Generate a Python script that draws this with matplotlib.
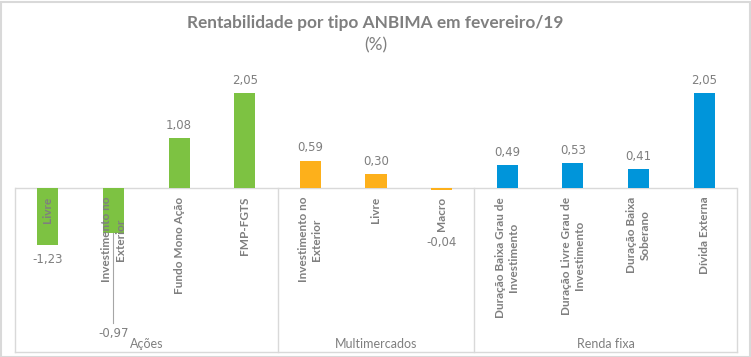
import numpy as np
import matplotlib
matplotlib.use('Agg')
import matplotlib.pyplot as plt
from matplotlib.patches import Rectangle

# dados
grupos = ['Ações', 'Multimercados', 'Renda fixa']
categorias = ['Livre', 'Investimento no\nExterior', 'Fundo Mono Ação', 'FMP-FGTS',
              'Investimento no\nExterior', 'Livre', 'Macro',
              'Duração Baixa Grau de\nInvestimento', 'Duração Livre Grau de\nInvestimento',
              'Duração Baixa\nSoberano', 'Dívida Externa']
valores = [-1.23, -0.97, 1.08, 2.05, 0.59, 0.30, -0.04, 0.49, 0.53, 0.41, 2.05]
grupo_idx = [0, 0, 0, 0, 1, 1, 1, 2, 2, 2, 2]

cores = ['#7DC242', '#FDB01B', '#0095DA']
cinza = '#7F7F7F'
linha = '#D9D9D9'

plt.rcParams['font.family'] = ['Lato', 'DejaVu Sans']

fig = plt.figure(figsize=(7.51, 3.57), dpi=100)
W, H = 751, 357
# area do grafico em pixels: x 15..737, zero em y=188, base em y=352
px_unit = 46.3
y_top_px, y_bot_px, y0_px = 60, 352, 188
ax = fig.add_axes([15 / W, 1 - y_bot_px / H, (737 - 15) / W, (y_bot_px - y_top_px) / H])
ax.set_xlim(-0.5, len(valores) - 0.5)
ax.set_ylim(-(y_bot_px - y0_px) / px_unit, (y0_px - y_top_px) / px_unit)
ax.axis('off')
ymin = ax.get_ylim()[0]

x = np.arange(len(valores))
ax.bar(x, valores, width=0.32, color=[cores[g] for g in grupo_idx], zorder=2)

# eixos e separadores
ax.plot([-0.5, len(valores) - 0.5], [0, 0], color=linha, lw=1, zorder=1)
ax.plot([-0.5, len(valores) - 0.5], [ymin, ymin], color=linha, lw=1, clip_on=False)
limites = [-0.5, 3.5, 6.5, len(valores) - 0.5]
for b in limites:
    ax.plot([b, b], [0, ymin], color=linha, lw=1, clip_on=False)

# rotulos de categoria (verticais, abaixo do zero)
for xi, cat in zip(x, categorias):
    ax.text(xi, -0.19, cat, rotation=90, ha='center', va='top', multialignment='center',
            fontsize=8.5, fontweight='bold', color=cinza, zorder=3, linespacing=1.25)

# rotulos de valores
for xi, v in zip(x, valores):
    txt = f'{v:.2f}'.replace('.', ',')
    kw = dict(ha='center', va='center', fontsize=8.5, color=cinza, family='DejaVu Sans')
    if v >= 0:
        ax.text(xi, v + 0.28, txt, **kw)
    elif xi == 1:
        ax.plot([xi, xi], [v, -2.92], color='#A6A6A6', lw=0.8, zorder=1)
        ax.text(xi, -3.15, txt, **kw)
    elif xi == 6:
        ax.text(xi, -1.17, txt, **kw)
    else:
        ax.text(xi, v - 0.32, txt, **kw)

# rotulos de grupo
for i, g in enumerate(grupos):
    xc = (limites[i] + limites[i + 1]) / 2
    ax.text(xc, ymin + 0.18, g, ha='center', va='center', fontsize=9, color=cinza)

fig.text(0.5, 1 - 23 / H, 'Rentabilidade por tipo ANBIMA em fevereiro/19', ha='center', va='center',
         fontsize=12.4, fontweight='bold', color=cinza)
fig.text(0.5, 1 - 45 / H, '(%)', ha='center', va='center', fontsize=12.4, color=cinza)

fig.patches.append(Rectangle((0.5 / W, 0.5 / H), 1 - 2 / W, 1 - 2 / H, transform=fig.transFigure,
                             fill=False, edgecolor=linha, lw=1.5))

fig.savefig('out.png', dpi=100)
